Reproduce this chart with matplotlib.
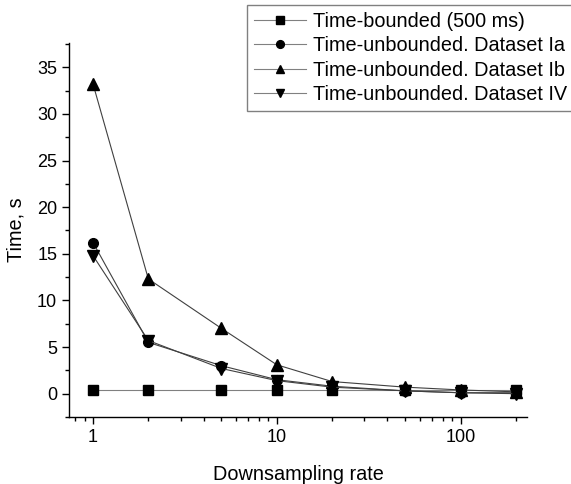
import matplotlib
matplotlib.use("Agg")
import matplotlib.pyplot as plt
from matplotlib.ticker import MultipleLocator, LogLocator, NullFormatter, FixedLocator, FixedFormatter

plt.rcParams['font.family'] = ['Liberation Sans', 'DejaVu Sans']

rates = [1, 2, 5, 10, 20, 50, 100, 200]
bounded = [0.4, 0.4, 0.4, 0.4, 0.4, 0.4, 0.4, 0.4]
dataset_ia = [16.2, 5.5, 3.0, 1.5, 0.8, 0.3, 0.1, 0.1]
dataset_ib = [33.2, 12.3, 7.0, 3.1, 1.3, 0.7, 0.4, 0.2]
dataset_iv = [14.8, 5.7, 2.7, 1.4, 0.7, 0.3, 0.1, 0.0]

series = [
    ("Time-bounded (500 ms)", bounded, "s", 6.5, "#808080"),
    ("Time-unbounded. Dataset Ia", dataset_ia, "o", 7, "#404040"),
    ("Time-unbounded. Dataset Ib", dataset_ib, "^", 8, "#404040"),
    ("Time-unbounded. Dataset IV", dataset_iv, "v", 8, "#404040"),
]

fig = plt.figure(figsize=(5.71, 4.84), dpi=100)
ax = fig.add_axes([69 / 571, 1 - 417 / 484, (527 - 69) / 571, (417 - 43) / 484])

for label, vals, marker, ms, lc in series:
    ax.plot(rates, vals, color=lc, linewidth=0.8, marker=marker,
            markersize=ms, markerfacecolor="black", markeredgecolor="black",
            label=label)

ax.set_xscale("log")
ax.set_xlim(0.74, 230)
ax.set_ylim(-2.5, 37.6)

ax.xaxis.set_major_locator(FixedLocator([1, 10, 100]))
ax.xaxis.set_major_formatter(FixedFormatter(["1", "10", "100"]))
ax.xaxis.set_minor_locator(LogLocator(base=10, subs=range(2, 10)))
ax.xaxis.set_minor_formatter(NullFormatter())
ax.yaxis.set_minor_locator(MultipleLocator(2.5))
ax.set_yticks([0, 5, 10, 15, 20, 25, 30, 35])

for side in ("top", "right"):
    ax.spines[side].set_visible(False)
for side in ("left", "bottom"):
    ax.spines[side].set_linewidth(1.0)

ax.tick_params(which="major", direction="out", length=5, width=1, labelsize=13)
ax.tick_params(which="minor", direction="out", length=3, width=1)

ax.set_xlabel("Downsampling rate", fontsize=14.3, labelpad=14)
ax.set_ylabel("Time, s", fontsize=14.3, labelpad=8)

leg = fig.legend(loc="upper left", bbox_to_anchor=(247 / 571, 1 - 5 / 484),
                 frameon=True, fancybox=False, fontsize=14.3,
                 borderaxespad=0, borderpad=0.35, labelspacing=0.27,
                 handlelength=2.6, handletextpad=0.35, markerscale=0.8)
leg.get_frame().set_edgecolor("#606060")
leg.get_frame().set_linewidth(1.0)
for line in leg.get_lines():
    line.set_color("#808080")
    line.set_markerfacecolor("black")
    line.set_markeredgecolor("black")

fig.savefig("out.png", dpi=100)
